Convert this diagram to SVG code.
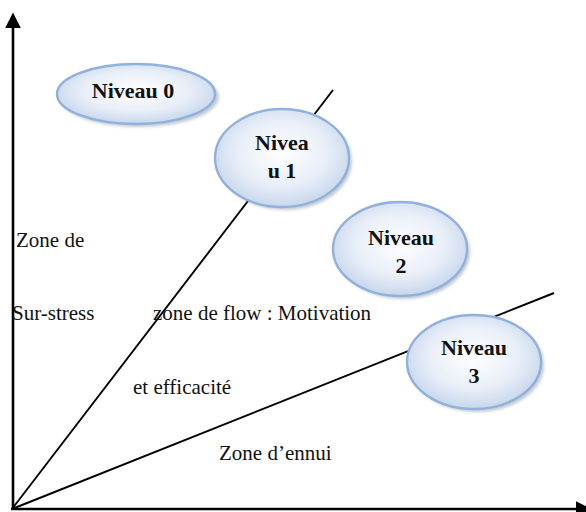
<svg xmlns="http://www.w3.org/2000/svg" width="586" height="512" viewBox="0 0 586 512">
  <style>
    .axis { stroke: #000; stroke-width: 2.6; fill: none; }
    .edge { stroke: #000; stroke-width: 1.9; fill: none; }
    .bubble { fill: url(#bubbleFill); stroke: #8fb1dd; stroke-width: 2.4; }
    .shadow { fill: #7f8a99; opacity: 0.45; filter: url(#soft); }
    .lvl { font-family: "Liberation Serif", "Times New Roman", serif; font-weight: bold; font-size: 22px; fill: #111; text-anchor: middle; }
    .zone { font-family: "Liberation Serif", "Times New Roman", serif; font-size: 21px; fill: #111; }
  </style>
  <defs>
    <radialGradient id="bubbleFill" cx="0.5" cy="0.45" r="0.62">
      <stop offset="0" stop-color="#ffffff"/>
      <stop offset="0.55" stop-color="#e8eef8"/>
      <stop offset="1" stop-color="#bccfe8"/>
    </radialGradient>
    <filter id="soft" x="-20%" y="-20%" width="140%" height="140%">
      <feGaussianBlur stdDeviation="1.6"/>
    </filter>
    <marker id="head" viewBox="0 0 10 10" refX="0" refY="5" markerWidth="6" markerHeight="6" markerUnits="strokeWidth" orient="auto">
      <path d="M0,0 L10,5 L0,10 Z" fill="#000"/>
    </marker>
  </defs>

  <rect width="586" height="512" fill="#fff"/>

  <!-- axes and zone boundaries -->
  <g id="connectors">
    <line class="axis" x1="13" y1="510" x2="13" y2="28" marker-end="url(#head)"/>
    <line class="axis" x1="11" y1="509" x2="576" y2="509" marker-end="url(#head)"/>
    <line class="edge" x1="12" y1="509" x2="333" y2="90"/>
    <line class="edge" x1="12" y1="509" x2="554" y2="293"/>
  </g>

  <!-- zone labels -->
  <g id="labels">
    <text class="zone" x="16" y="247">Zone de</text>
    <text class="zone" x="12" y="320">Sur-stress</text>
    <text class="zone" x="153" y="320">zone de flow : Motivation</text>
    <text class="zone" x="133" y="394">et efficacité</text>
    <text class="zone" x="219" y="460">Zone d’ennui</text>
  </g>

  <!-- level bubbles -->
  <g id="niveau0">
    <ellipse class="shadow" cx="139" cy="97" rx="80" ry="30"/>
    <ellipse class="bubble" cx="136" cy="94" rx="79" ry="30"/>
    <text class="lvl" x="133" y="98">Niveau 0</text>
  </g>
  <g id="niveau1">
    <ellipse class="shadow" cx="285" cy="161" rx="67" ry="49"/>
    <ellipse class="bubble" cx="282" cy="158" rx="67" ry="49"/>
    <text class="lvl" x="282" y="150">Nivea</text>
    <text class="lvl" x="282" y="178">u 1</text>
  </g>
  <g id="niveau2">
    <ellipse class="shadow" cx="403" cy="252" rx="67" ry="47"/>
    <ellipse class="bubble" cx="400" cy="249" rx="67" ry="47"/>
    <text class="lvl" x="401" y="245">Niveau</text>
    <text class="lvl" x="401" y="273">2</text>
  </g>
  <g id="niveau3">
    <ellipse class="shadow" cx="477" cy="365" rx="67" ry="47"/>
    <ellipse class="bubble" cx="474" cy="362" rx="67" ry="47"/>
    <text class="lvl" x="474" y="355">Niveau</text>
    <text class="lvl" x="474" y="383">3</text>
  </g>
</svg>
